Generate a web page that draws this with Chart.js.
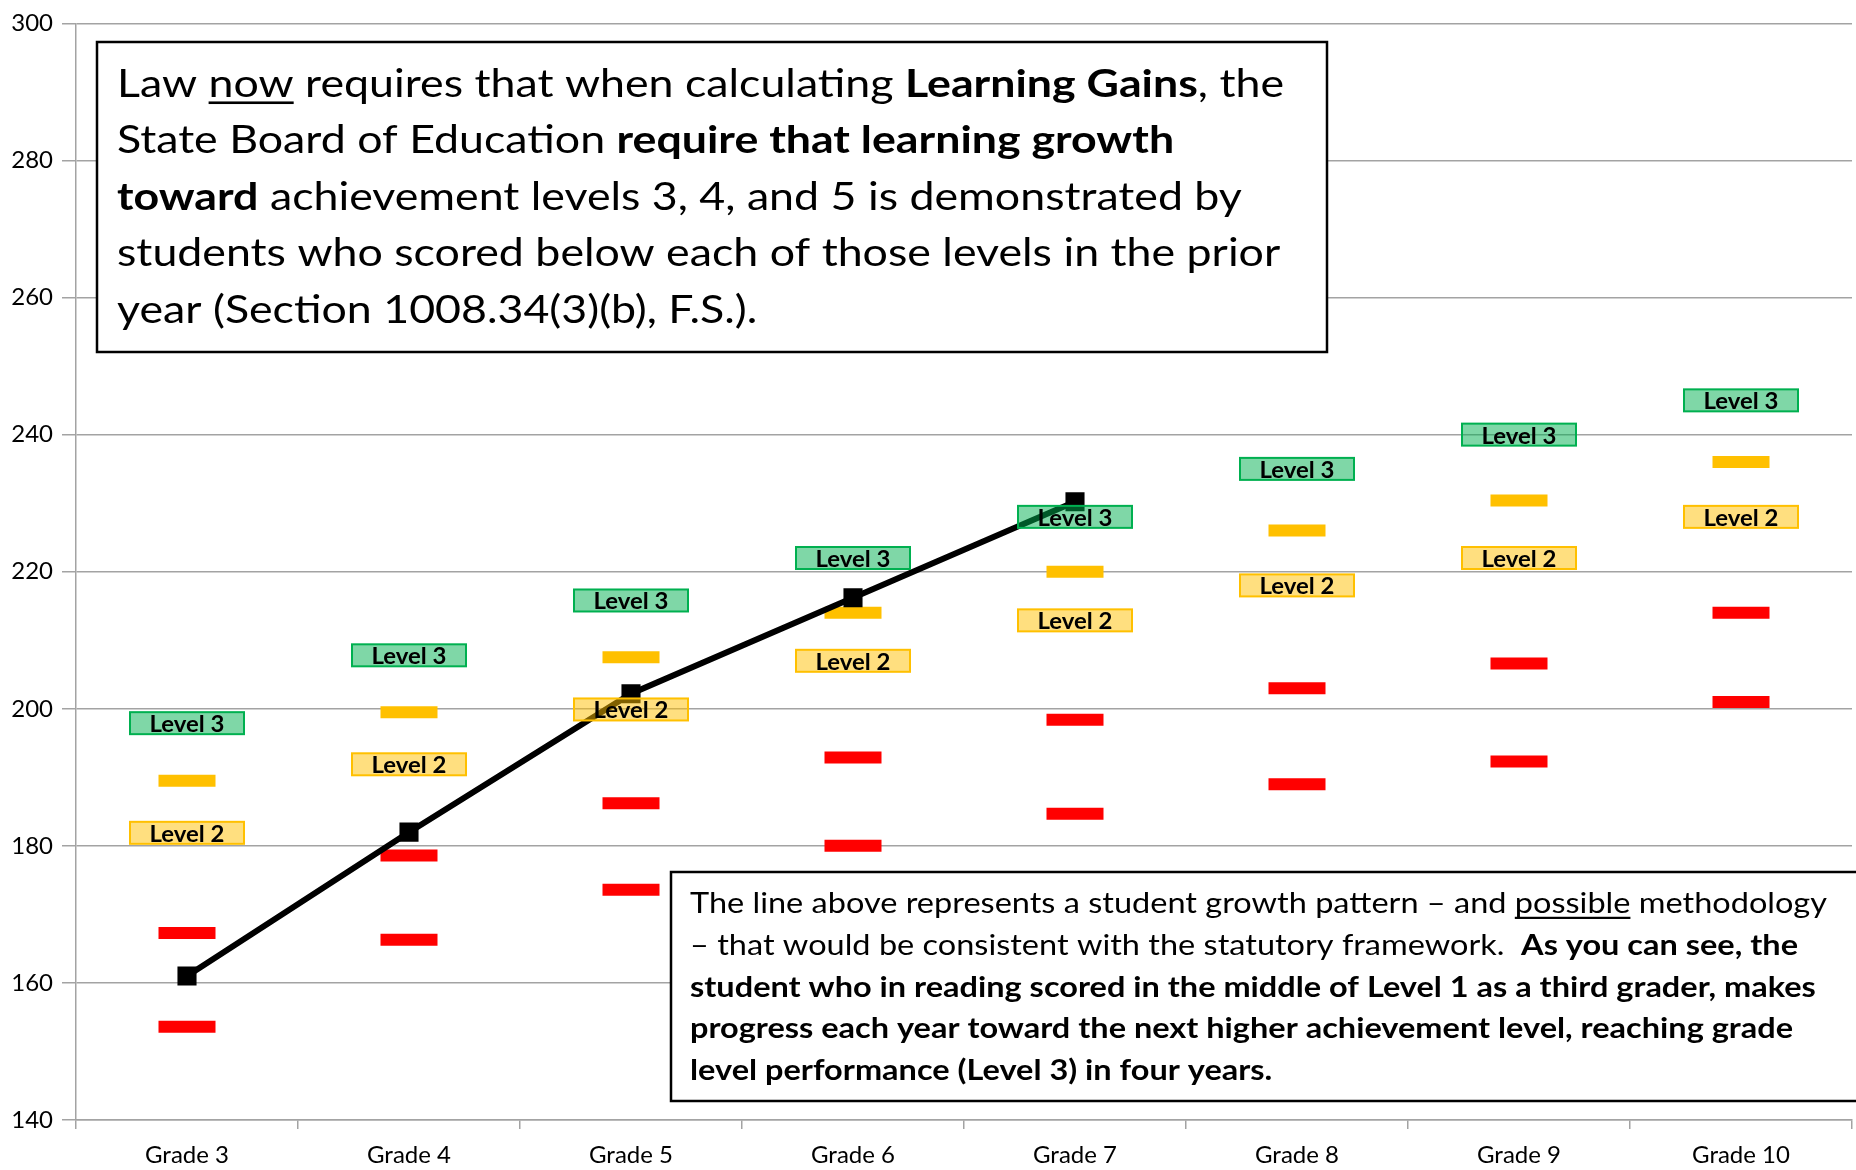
<!DOCTYPE html>
<html lang="en">
<head>
<meta charset="UTF-8">
<title>Learning Gains – Student Growth Pattern</title>
<script src="https://cdn.jsdelivr.net/npm/chart.js"></script>
<style>
  html, body { margin: 0; padding: 0; background: #fff; }
  #wrap { width: 1856px; height: 1170px; position: relative; }
</style>
</head>
<body>
<div id="wrap"><canvas id="grafico"></canvas></div>

<script>
// categories and values
const grades = ['Grade 3', 'Grade 4', 'Grade 5', 'Grade 6', 'Grade 7', 'Grade 8', 'Grade 9', 'Grade 10'];
const redLow   = [153.6, 166.3, 173.6, 180.0, 184.7, 189.0, 192.3, 201.0];
const redHigh  = [167.3, 178.6, 186.2, 192.9, 198.4, 203.0, 206.6, 214.0];
const orangeCut = [189.5, 199.5, 207.5, 214.0, 220.0, 226.0, 230.4, 236.0];
const level2Tag = [181.9, 191.9, 199.9, 207.0, 212.9, 218.0, 222.0, 228.0];
const level3Tag = [197.9, 207.8, 215.8, 222.0, 228.0, 235.0, 240.0, 245.0];
const student   = [161.0, 182.0, 202.2, 216.2, 230.2, null, null, null];
const yMin = 140, yMax = 300, yStep = 20;

// note texts: [text, style] with b = bold, u = underline
const noteTopLines = [
  [['Law ', ''], ['now', 'u'], [' requires that when calculating ', ''], ['Learning Gains', 'b'], [', the', '']],
  [['State Board of Education ', ''], ['require that learning growth', 'b']],
  [['toward', 'b'], [' achievement levels 3, 4, and 5 is demonstrated by', '']],
  [['students who scored below each of those levels in the prior', '']],
  [['year (Section 1008.34(3)(b), F.S.).', '']]
];
const noteBottomLines = [
  [['The line above represents a student growth pattern \u2013 and ', ''], ['possible', 'u'], [' methodology', '']],
  [['\u2013 that would be consistent with the statutory framework.  ', ''], ['As you can see, the', 'b']],
  [['student who in reading scored in the middle of Level 1 as a third grader, makes', 'b']],
  [['progress each year toward the next higher achievement level, reaching grade', 'b']],
  [['level performance (Level 3) in four years.', 'b']]
];

const GRID = '#a3a3a3';
Chart.defaults.font.family = 'Lato';

function drawTag(ctx, cx, cy, text, fill, stroke) {
  const w = 114, h = 22;
  ctx.fillStyle = fill;
  ctx.fillRect(cx - w / 2, cy - h / 2, w, h);
  ctx.strokeStyle = stroke;
  ctx.lineWidth = 2;
  ctx.strokeRect(cx - w / 2, cy - h / 2, w, h);
  ctx.font = 'bold 23px Lato';
  const sx = 75 / ctx.measureText(text).width;
  ctx.save();
  ctx.translate(cx, cy + 9);
  ctx.scale(sx, 1);
  ctx.fillStyle = '#000';
  ctx.textAlign = 'center';
  ctx.textBaseline = 'alphabetic';
  ctx.fillText(text, 0, 0);
  ctx.restore();
}

function drawNote(ctx, note) {
  ctx.save();
  ctx.fillStyle = '#fff';
  ctx.fillRect(note.x, note.y, note.w, note.h);
  ctx.strokeStyle = '#000';
  ctx.lineWidth = 2.5;
  ctx.strokeRect(note.x, note.y, note.w, note.h);

  const fontOf = st => (st.includes('b') ? 'bold ' : '') + note.size + 'px Lato';
  const measure = runs => runs.reduce((s, r) => { ctx.font = fontOf(r[1]); return s + ctx.measureText(r[0]).width; }, 0);
  const sx = note.fitWidth / measure(note.lines[0]);

  ctx.fillStyle = '#000';
  ctx.textAlign = 'left';
  ctx.textBaseline = 'alphabetic';
  note.lines.forEach((runs, k) => {
    const by = note.baseline + k * note.gap;
    let px = note.textX;
    runs.forEach(([t, st]) => {
      ctx.font = fontOf(st);
      const w = ctx.measureText(t).width * sx;
      ctx.save();
      ctx.translate(px, by);
      ctx.scale(sx, 1);
      ctx.fillText(t, 0, 0);
      ctx.restore();
      if (st.includes('u')) ctx.fillRect(px, by + note.size * 0.13, w, note.uw);
      px += w;
    });
  });
  ctx.restore();
}

const tagPlugin = {
  id: 'levelTags',
  afterDatasetsDraw(chart) {
    const { ctx, scales: { x, y } } = chart;
    ctx.save();
    grades.forEach((g, i) => {
      const cx = x.getPixelForValue(i);
      drawTag(ctx, cx, y.getPixelForValue(level2Tag[i]), 'Level 2', 'rgba(255,192,0,0.5)', '#FFC000');
      drawTag(ctx, cx, y.getPixelForValue(level3Tag[i]), 'Level 3', 'rgba(0,176,80,0.5)', '#00B050');
    });
    ctx.restore();
  }
};

const notePlugin = {
  id: 'notes',
  afterDraw(chart) {
    const ctx = chart.ctx;
    drawNote(ctx, { x: 97, y: 42, w: 1230, h: 310, textX: 117, baseline: 96.5, gap: 56.5,
      size: 38, fitWidth: 1167, uw: 2.6, lines: noteTopLines });
    drawNote(ctx, { x: 671, y: 872, w: 1220, h: 229, textX: 690, baseline: 913, gap: 41.75,
      size: 29, fitWidth: 1137, uw: 2.2, lines: noteBottomLines });
  }
};

const cutMark = (data, color) => ({
  data,
  showLine: false,
  pointStyle: 'line',
  pointRadius: 28.5,
  pointBorderWidth: 12,
  pointBorderColor: color,
  borderColor: color,
  backgroundColor: color
});

new Chart(document.getElementById('grafico'), {
  type: 'line',
  data: {
    labels: grades,
    datasets: [
      {
        data: student,
        borderColor: '#000',
        borderWidth: 6,
        tension: 0,
        pointStyle: 'rect',
        pointRadius: 13.5,
        pointBackgroundColor: '#000',
        pointBorderWidth: 0,
        spanGaps: false
      },
      cutMark(orangeCut, '#FFC000'),
      cutMark(redHigh, '#FF0000'),
      cutMark(redLow, '#FF0000')
    ]
  },
  options: {
    responsive: true,
    maintainAspectRatio: false,
    animation: false,
    events: [],
    layout: { autoPadding: false, padding: { top: 19, right: 4, left: 0, bottom: 0 } },
    plugins: { legend: { display: false }, tooltip: { enabled: false } },
    scales: {
      x: {
        offset: true,
        afterFit: s => { s.height = 50; },
        grid: { offset: true, drawOnChartArea: false, drawTicks: true, tickLength: 9, color: GRID, lineWidth: 1.5 },
        border: { color: GRID, width: 1.5 },
        ticks: { color: '#000', font: { size: 24 }, padding: 12, maxRotation: 0 }
      },
      y: {
        min: yMin,
        max: yMax,
        afterFit: s => { s.width = 76; },
        grid: { color: GRID, lineWidth: 1.5, tickLength: 14 },
        border: { color: GRID, width: 1.5 },
        ticks: { stepSize: yStep, color: '#000', font: { size: 24 }, padding: 9 }
      }
    }
  },
  plugins: [tagPlugin, notePlugin]
});
</script>
</body>
</html>
